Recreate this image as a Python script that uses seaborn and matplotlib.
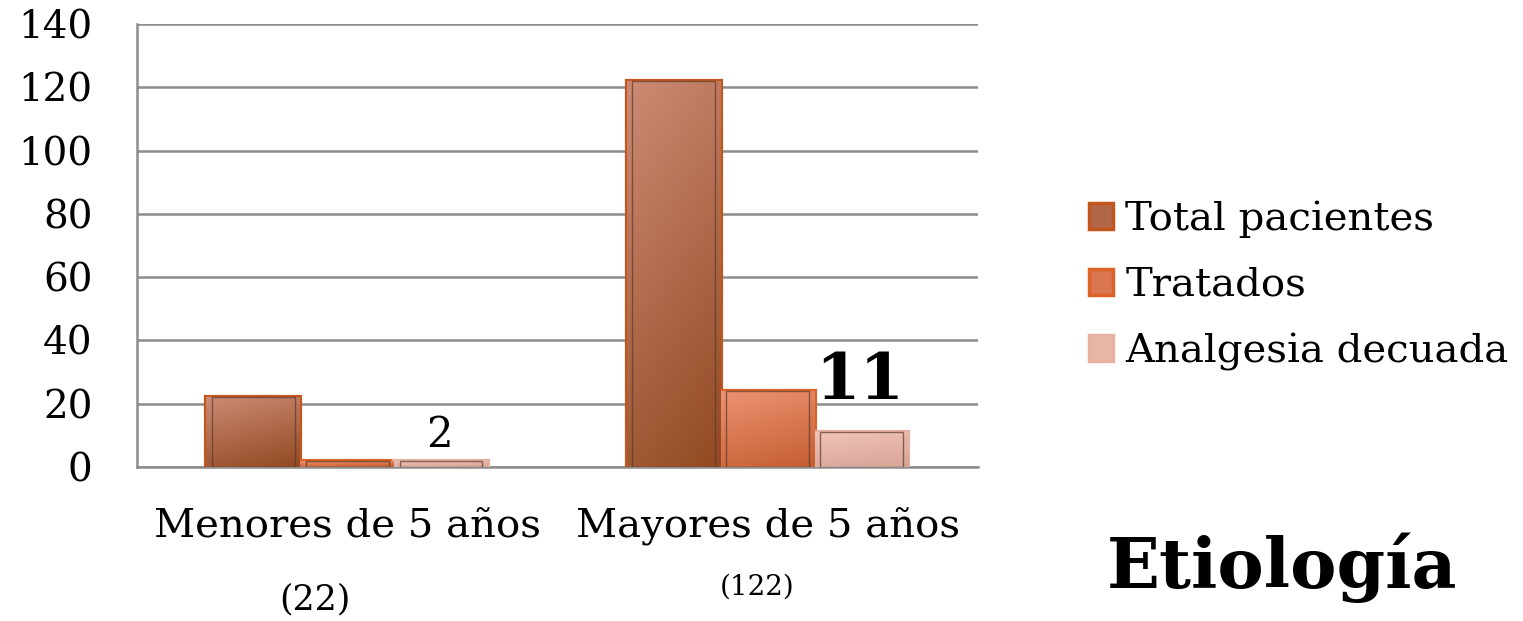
import numpy as np
import pandas as pd
import matplotlib
matplotlib.use("Agg")
import matplotlib.pyplot as plt
from matplotlib.patches import Patch
import seaborn as sns

# data
grupos = ["Menores de 5 años", "Mayores de 5 años"]
subtitulos = ["(22)", "(122)"]
series = ["Total pacientes", "Tratados", "Analgesia decuada"]
total_pacientes = [22, 122]
tratados = [2, 24]
analgesia = [2, 11]

face_colors = ["#B06848", "#DA7650", "#E8B6A6"]
light_colors = ["#CC8A74", "#EC9272", "#F0C4B6"]
dark_colors = ["#934A22", "#C55E32", "#D8A496"]
edge_colors = ["#C4561C", "#DC6428", "#E6B0A2"]

df = pd.DataFrame({
    "Grupo": grupos * 3,
    "Serie": [s for s in series for _ in grupos],
    "Valor": total_pacientes + tratados + analgesia,
})

sns.set_style("white")
plt.rcParams["font.family"] = ["DejaVu Serif"]
plt.rcParams["text.color"] = "black"
plt.rcParams["ytick.labelcolor"] = "black"

fig = plt.figure(figsize=(15.23, 6.21), dpi=100)
ax = fig.add_axes([0.09, 0.248, 0.552, 0.713])

sns.barplot(data=df, x="Grupo", y="Valor", hue="Serie", hue_order=series,
            palette=face_colors, width=0.67, legend=False, ax=ax, zorder=3)

# gradient fill + edges for each bar
for i, cont in enumerate(ax.containers):
    cmap = matplotlib.colors.LinearSegmentedColormap.from_list(
        "g%d" % i, [light_colors[i], dark_colors[i]])
    for bar in cont:
        bar.set_edgecolor(edge_colors[i])
        bar.set_linewidth(3)
        x0, y0 = bar.get_x(), bar.get_y()
        w, h = bar.get_width(), bar.get_height()
        yy, xx = np.mgrid[0:1:50j, 0:1:50j]
        grad = 0.75 * yy + 0.25 * xx
        im = ax.imshow(grad, cmap=cmap, extent=[x0, x0 + w, y0, y0 + h],
                       aspect="auto", zorder=3.5, interpolation="bilinear")
        im.set_clip_path(bar)
        ax.add_patch(plt.Rectangle((x0 + w * 0.06, y0), w * 0.88, h,
                                   fill=False, edgecolor="#5a3a2a",
                                   linewidth=1, alpha=0.7, zorder=4))

ax.set_xlim(-0.5, 1.5)
ax.set_ylim(0, 140)
ax.set_yticks(range(0, 141, 20))
ax.set_xticks([-0.5, 0.5, 1.5])
ax.set_xticklabels([])
ax.tick_params(axis="x", direction="out", length=16, width=1.8, color="#8c8c8c")
ax.tick_params(axis="y", direction="inout", length=30, width=1.8, color="#8c8c8c",
               labelsize=28, pad=17)
ax.grid(axis="y", color="#8c8c8c", linewidth=1.8, zorder=0)
ax.set_axisbelow(True)
ax.set_xlabel("")
ax.set_ylabel("")
for side in ["top", "right"]:
    ax.spines[side].set_visible(False)
for side in ["left", "bottom"]:
    ax.spines[side].set_color("#8c8c8c")
    ax.spines[side].set_linewidth(1.8)

# category labels and counts
for i, g in enumerate(grupos):
    ax.text(i, -19, g, ha="center", va="center", fontsize=29)
ax.text(0 - 0.076, -42, subtitulos[0], ha="center", va="center", fontsize=25)
ax.text(1 - 0.026, -38, subtitulos[1], ha="center", va="center", fontsize=20)

# value annotations
ax.text(0.22, 10, "2", ha="center", va="center", fontsize=30, zorder=5)
ax.text(1.22, 27, "11", ha="center", va="center", fontsize=46,
        fontweight="bold", zorder=5)

handles = [Patch(facecolor=face_colors[i], edgecolor=edge_colors[i], linewidth=2.5)
           for i in range(3)]
fig.legend(handles, series, loc="center left", bbox_to_anchor=(0.715, 0.54),
           frameon=False, fontsize=29, handlelength=0.6, handleheight=0.6,
           handletextpad=0.3, labelspacing=0.72, borderpad=0, borderaxespad=0)

fig.text(0.727, 0.085, "Etiología", fontsize=50, fontweight="bold",
         ha="left", va="center")

fig.savefig("out.png", dpi=100)
